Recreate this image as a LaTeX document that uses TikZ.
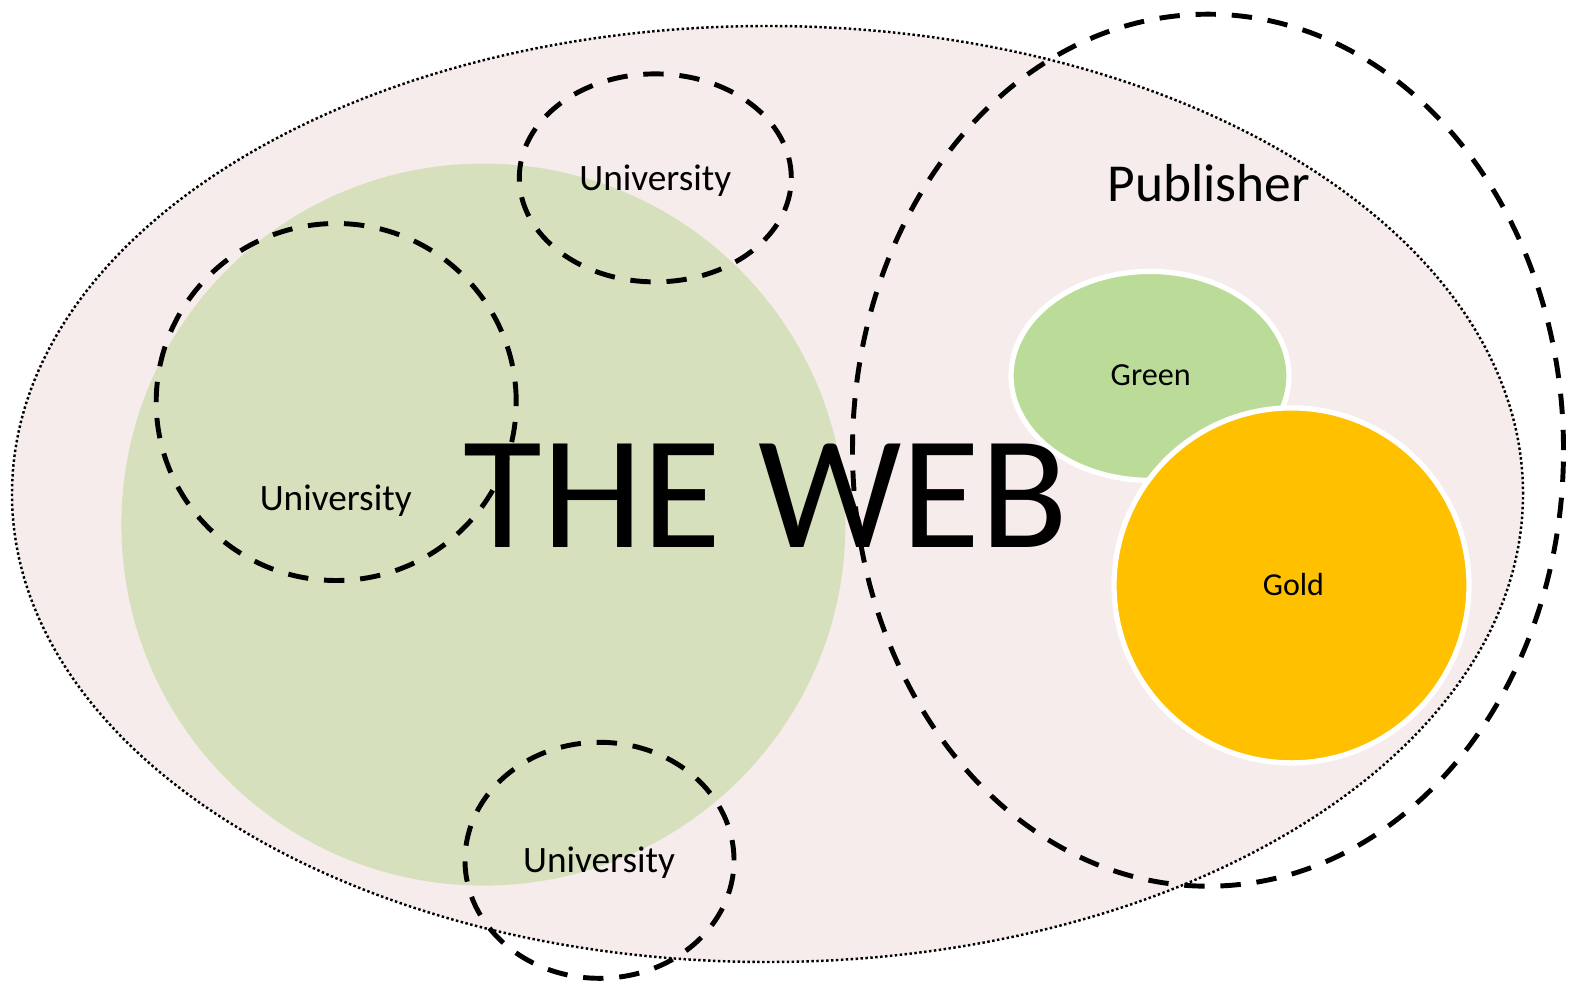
\documentclass[tikz,border=0pt]{standalone}
\usepackage{fontspec}
\setmainfont{Carlito}
\usetikzlibrary{shapes.geometric,positioning}

\definecolor{webpink}{HTML}{F6ECEC}
\definecolor{webgreen}{HTML}{D7E0BC}
\definecolor{oagreen}{HTML}{BBDC98}
\definecolor{oagold}{HTML}{FFC000}

\begin{document}
\begin{tikzpicture}[%
    x=1cm, y=1cm,
    blob/.style={ellipse, inner sep=0pt, outer sep=0pt},
    dashring/.style={blob, draw=black, line width=1.4pt,
                     dash pattern=on 5.8pt off 4.5pt},
    oaring/.style={blob, draw=white, line width=1.5pt},
    lbl/.style={anchor=base, inner sep=0pt},
  ]
    \useasboundingbox (0,0) rectangle (15.77,9.87);

    % background regions
    \node (web)  [blob, fill=webpink, draw=black, line width=0.7pt,
                  dash pattern=on 0.7pt off 0.7pt,
                  minimum width=15.11cm, minimum height=9.36cm] at (7.675,4.93) {};
    \node (core) [blob, fill=webgreen,
                  minimum width=7.24cm, minimum height=7.22cm] at (4.834,4.624) {};

    % universities
    \node (unitop)   [dashring, minimum width=2.72cm, minimum height=2.08cm] at (6.553,8.091) {};
    \node (unileft)  [dashring, minimum width=3.60cm, minimum height=3.57cm] at (3.362,5.85) {};
    \node (unibot)   [dashring, minimum width=2.69cm, minimum height=2.36cm] at (5.995,1.267) {};

    % publisher and open access
    \node (publisher) [dashring, minimum width=7.11cm, minimum height=8.72cm] at (12.08,5.368) {};
    \node (green) [oaring, fill=oagreen, minimum width=2.78cm, minimum height=2.09cm] at (11.50,6.111) {};
    \node (gold)  [oaring, fill=oagold,  minimum width=3.55cm, minimum height=3.55cm] at (12.915,4.016) {};

    % labels
    \node (unitoplbl)  [lbl, font=\fontsize{10.6}{12}\selectfont] at (6.553,7.96) {University};
    \node (unileftlbl) [lbl, font=\fontsize{10.6}{12}\selectfont] at (3.357,4.765) {University};
    \node (unibotlbl)  [lbl, font=\fontsize{10.6}{12}\selectfont] at (5.99,1.147) {University};
    \node (publbl)     [lbl, font=\fontsize{15.2}{18}\selectfont] at (12.09,7.85) {Publisher};
    \node (greenlbl)   [lbl, font=\fontsize{9.15}{11}\selectfont] at (11.507,6.01) {Green};
    \node (goldlbl)    [lbl, font=\fontsize{9.1}{11}\selectfont] at (12.934,3.92) {Gold};
    \node (weblbl)     [lbl, font=\fontsize{45.9}{50}\selectfont] at (7.66,4.393) {THE WEB};
\end{tikzpicture}
\end{document}
